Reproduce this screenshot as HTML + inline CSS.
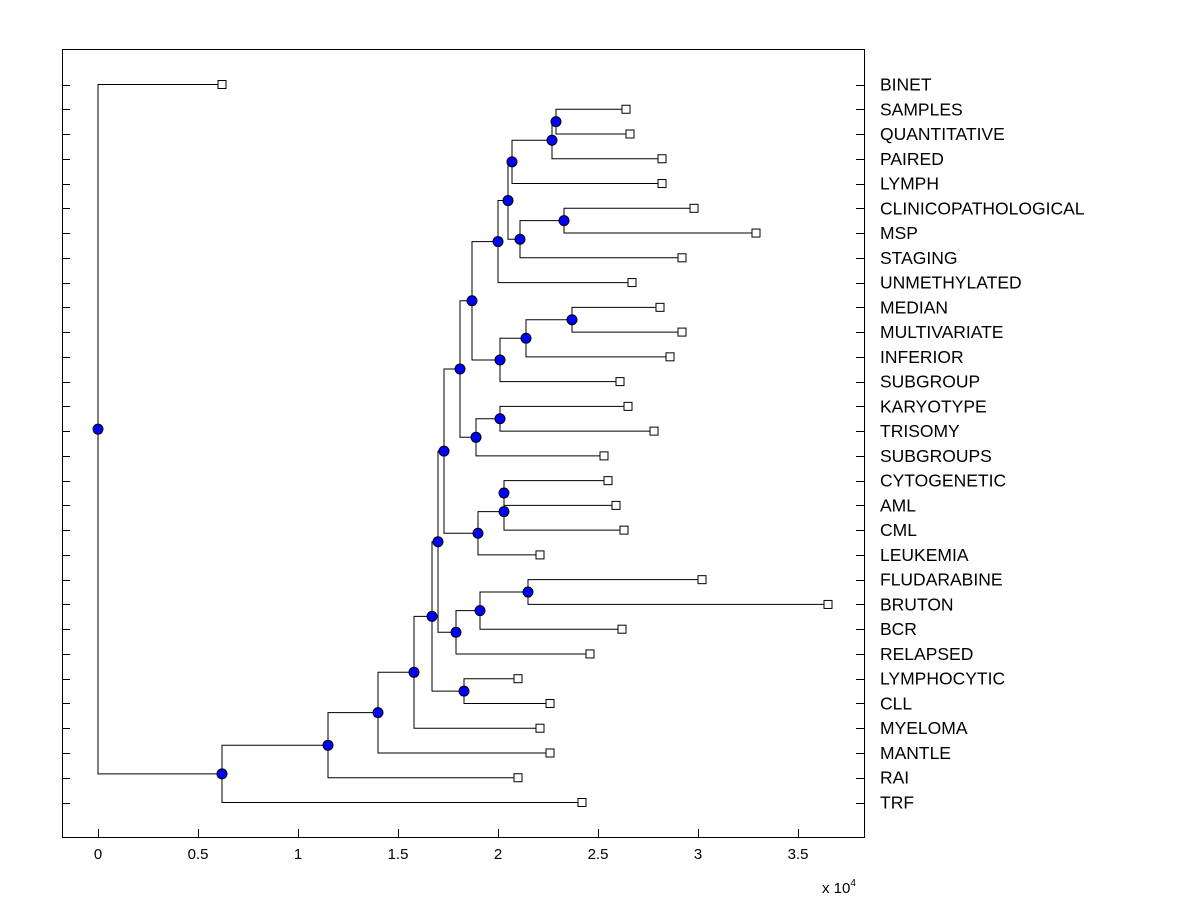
<!DOCTYPE html>
<html><head><meta charset="utf-8"><style>
body{margin:0;background:#fff;}
svg{display:block;font-family:"Liberation Sans",Arial,sans-serif;}
</style></head><body>
<svg id="chart" width="1200" height="900">
<rect x="0" y="0" width="1200" height="900" fill="#fff"/>
<rect x="62.5" y="49.5" width="802" height="788" fill="none" stroke="#000"/>
<g id="g"></g>
</svg>
<script>
const leafNames=["BINET","SAMPLES","QUANTITATIVE","PAIRED","LYMPH","CLINICOPATHOLOGICAL","MSP","STAGING","UNMETHYLATED","MEDIAN","MULTIVARIATE","INFERIOR","SUBGROUP","KARYOTYPE","TRISOMY","SUBGROUPS","CYTOGENETIC","AML","CML","LEUKEMIA","FLUDARABINE","BRUTON","BCR","RELAPSED","LYMPHOCYTIC","CLL","MYELOMA","MANTLE","RAI","TRF"];
const leafValues=[0.62,2.64,2.66,2.82,2.82,2.98,3.29,2.92,2.67,2.81,2.92,2.86,2.61,2.65,2.78,2.53,2.55,2.59,2.63,2.21,3.02,3.65,2.62,2.46,2.10,2.26,2.21,2.26,2.10,2.42];
const mergeIds=["BB","AA","X","Z","Y","W","S","V","U","T","P","R","Q","L","O","N","M","H","K","J","I","F","G","E","D","C","B","A","ROOT"];
const mergeLeft=["SAMPLES","BB","AA","CLINICOPATHOLOGICAL","Z","X","W","MEDIAN","V","U","S","KARYOTYPE","R","P","CYTOGENETIC","O","N","L","FLUDARABINE","K","J","H","LYMPHOCYTIC","F","E","D","C","B","BINET"];
const mergeRight=["QUANTITATIVE","PAIRED","LYMPH","MSP","STAGING","Y","UNMETHYLATED","MULTIVARIATE","INFERIOR","SUBGROUP","T","TRISOMY","SUBGROUPS","Q","AML","CML","LEUKEMIA","M","BRUTON","BCR","RELAPSED","I","CLL","G","MYELOMA","MANTLE","RAI","TRF","A"];
const mergeHeights=[2.29,2.27,2.07,2.33,2.11,2.05,2.00,2.37,2.14,2.01,1.87,2.01,1.89,1.81,2.03,2.03,1.90,1.73,2.15,1.91,1.79,1.70,1.83,1.67,1.58,1.40,1.15,0.62,0];
const xTicks=[0,0.5,1,1.5,2,2.5,3,3.5];
const xTickLabels=["0","0.5","1","1.5","2","2.5","3","3.5"];

const NS="http://www.w3.org/2000/svg";
const g=document.getElementById('g');
const xS=v=>98+v*200;
const yS=i=>84.5+i*(802-84)/(leafNames.length-1);
function mk(t,a){const e=document.createElementNS(NS,t);for(const k in a)e.setAttribute(k,a[k]);g.appendChild(e);return e;}
const pos={};
leafNames.forEach((n,i)=>{pos[n]={x:xS(leafValues[i]),y:yS(i)};});
mergeIds.forEach((id,i)=>{const l=pos[mergeLeft[i]],r=pos[mergeRight[i]];pos[id]={x:xS(mergeHeights[i]),y:(l.y+r.y)/2};});
leafNames.forEach((n,i)=>{const y=Math.round(yS(i))+0.5;
 let t=mk('line',{x1:62,x2:70,y1:y,y2:y,stroke:'#000'});
 
 
 t=mk('line',{x1:856,x2:864,y1:y,y2:y,stroke:'#000'});
 
 
 const tx=mk('text',{x:880,y:yS(i)+6,'font-size':17.5,fill:'#000'});tx.textContent=n;
 
 
});
xTicks.forEach((v,i)=>{const x=Math.round(xS(v))+0.5;
 const t=mk('line',{x1:x,x2:x,y1:837,y2:829,stroke:'#000'});
 
 
 const tx=mk('text',{x:xS(v),y:859,'font-size':15,'text-anchor':'middle'});tx.textContent=xTickLabels[i];
 
 
});
const ex=mk('text',{x:822,y:893,'font-size':15});ex.innerHTML='x 10<tspan dy="-7" font-size="10">4</tspan>';


mergeIds.forEach((id,i)=>{const p=pos[id];[mergeLeft[i],mergeRight[i]].forEach(c=>{const q=pos[c];
 const l=mk('path',{d:`M${p.x},${p.y}V${q.y}H${q.x}`,fill:'none',stroke:'#000','stroke-width':1});
 
 });});
leafNames.forEach(n=>{const p=pos[n];
 const r=mk('rect',{x:p.x-4,y:p.y-4,width:8,height:8,fill:'#fff',stroke:'#000'});
 
 });
mergeIds.forEach(id=>{const p=pos[id];
 const c=mk('circle',{cx:p.x,cy:p.y,r:5,fill:'#0000ff',stroke:'#000'});
 
 });
</script>
</body></html>
